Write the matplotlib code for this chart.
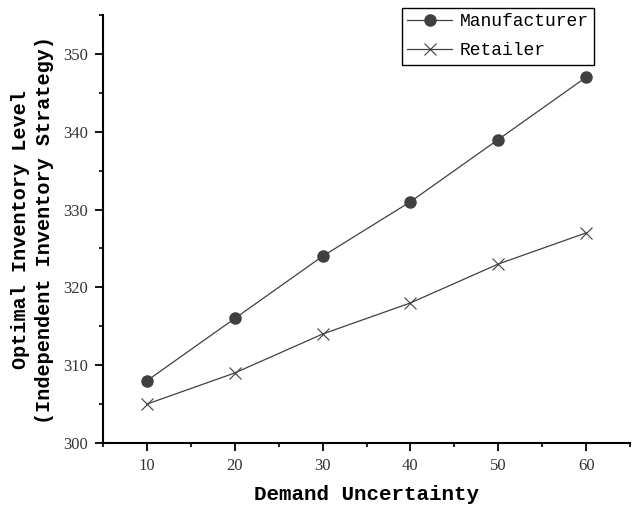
import matplotlib.pyplot as plt
from matplotlib.ticker import MultipleLocator

# data
uncertainty = [10, 20, 30, 40, 50, 60]
manufacturer = [308, 316, 324, 331, 339, 347]
retailer = [305, 309, 314, 318, 323, 327]

W, H = 632, 511
fig = plt.figure(figsize=(W / 100, H / 100), dpi=100)
ax = fig.add_axes([103 / W, 1 - 443 / H, 527 / W, 428 / H])

line_color = '#404040'
ax.plot(uncertainty, manufacturer, color=line_color, lw=0.9, marker='o',
        ms=8, mfc=line_color, mec=line_color, label='Manufacturer')
ax.plot(uncertainty, retailer, color=line_color, lw=0.9, marker='x',
        ms=9, mew=0.8, mec=line_color, label='Retailer')

ax.set_xlim(5, 65)
ax.set_ylim(300, 355)
ax.xaxis.set_major_locator(MultipleLocator(10))
ax.xaxis.set_minor_locator(MultipleLocator(5))
ax.yaxis.set_major_locator(MultipleLocator(10))
ax.yaxis.set_minor_locator(MultipleLocator(5))

ax.spines['top'].set_visible(False)
ax.spines['right'].set_visible(False)
for s in ('left', 'bottom'):
    ax.spines[s].set_linewidth(1.5)
ax.tick_params(which='major', direction='out', length=6, width=1.3,
               labelsize=12, pad=5)
ax.tick_params(which='minor', direction='out', length=3, width=1.2)
for lab in ax.get_xticklabels() + ax.get_yticklabels():
    lab.set_fontfamily('Liberation Serif')
    lab.set_color('#333333')

ax.set_xlabel('Demand Uncertainty', fontsize=15, fontweight='bold',
              family='Liberation Mono', labelpad=8)

# two-line y label
ymid = 1 - 230 / H
fig.text(21 / W, ymid, 'Optimal Inventory Level', rotation=90,
         ha='center', va='center', fontsize=14.5, fontweight='bold',
         family='Liberation Mono')
fig.text(45 / W, ymid, '(Independent Inventory Strategy)', rotation=90,
         ha='center', va='center', fontsize=14.5, fontweight='bold',
         family='Liberation Mono')

leg = ax.legend(loc='upper right', bbox_to_anchor=(594 / W, 1 - 8 / H),
                bbox_transform=fig.transFigure, fancybox=False,
                edgecolor='black', framealpha=1, handlelength=2.5,
                handletextpad=0.4, borderpad=0.3, labelspacing=0.65,
                borderaxespad=0, prop={'family': 'Liberation Mono', 'size': 13})
leg.get_frame().set_linewidth(1.0)

fig.savefig('out.png', dpi=100)
